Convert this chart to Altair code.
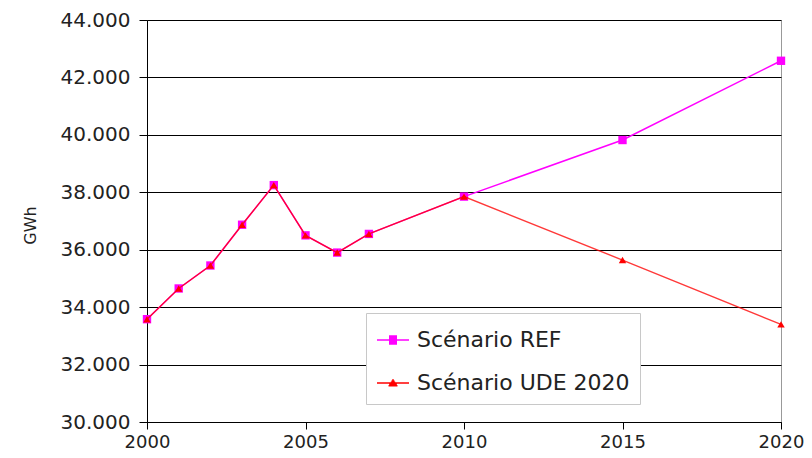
import altair as alt
import pandas as pd

YEARS = [2000, 2001, 2002, 2003, 2004, 2005, 2006, 2007, 2010, 2015, 2020]
REF = [33580, 34650, 35450, 36870, 38250, 36500, 35900, 36550, 37850, 39820, 42580]
UDE = [33580, 34650, 35450, 36870, 38250, 36500, 35900, 36550, 37850, 35640, 33400]
SERIES = ["Scénario REF", "Scénario UDE 2020"]
COLORS = ["#ff00ff", "#ff0000"]
Y_TICKS = [30000, 32000, 34000, 36000, 38000, 40000, 42000, 44000]
X_TICKS = [2000, 2005, 2010, 2015, 2020]

rows = []
for s, vals in zip(SERIES, [REF, UDE]):
    for yr, v in zip(YEARS, vals):
        rows.append({"year": yr, "value": v, "series": s})
df = pd.DataFrame(rows)

FONT = "DejaVu Sans"


def hlines(half_widths, y0, step):
    parts = []
    for i, w in enumerate(half_widths):
        yy = y0 + i * step
        parts.append(f"M{-w:.3f},{yy:.3f}H{w:.3f}")
    return "".join(parts)


# legend symbols: a short line with a solid marker in its middle (drawn with strokes)
sym_ref = "M-1,0H1" + hlines([0.25] * 7, -0.24, 0.08)
sym_ude = "M-1,0H1" + hlines([0.04, 0.09, 0.14, 0.19, 0.24, 0.28], -0.2, 0.075)

legend = alt.Legend(
    title=None,
    orient="none",
    legendX=219,
    legendY=293,
    direction="vertical",
    fillColor="white",
    strokeColor="#c8c8c8",
    padding=10,
    labelFont=FONT,
    labelFontSize=22,
    labelColor="#222222",
    labelLimit=500,
    symbolSize=1024,
    symbolStrokeWidth=1.6,
    symbolOpacity=1,
    labelOffset=7,
    rowPadding=15,
)

x = alt.X(
    "year:Q",
    scale=alt.Scale(domain=[2000, 2020], nice=False, zero=False),
    axis=alt.Axis(
        values=X_TICKS, format="d", title=None, grid=False,
        domainColor="black", tickColor="black", tickSize=7,
        labelFont=FONT, labelFontSize=18, labelColor="#222222", labelPadding=4,
        labelFlush=False,
    ),
)
y = alt.Y(
    "value:Q",
    scale=alt.Scale(domain=[30000, 44000], nice=False, zero=False),
    axis=alt.Axis(
        values=Y_TICKS, title="GWh", grid=True, gridColor="black", gridWidth=1,
        labelExpr="replace(format(datum.value, ',.0f'), ',', '.')",
        domainColor="black", tickColor="black", tickSize=8,
        labelFont=FONT, labelFontSize=20, labelColor="#222222", labelPadding=9,
        titleFont=FONT, titleFontSize=16, titleFontWeight="normal", titleColor="#222222",
        titleX=-117, titleY=205, titleBaseline="middle",
    ),
)

base = alt.Chart(df)
ref = base.transform_filter(alt.datum.series == SERIES[0])
ude = base.transform_filter(alt.datum.series == SERIES[1])

ref_line = ref.mark_line(strokeWidth=1.5, color=COLORS[0]).encode(x=x, y=y)
ref_pts = ref.mark_point(shape="square", filled=True, size=70, opacity=1, color=COLORS[0]).encode(x=x, y=y)
ude_line = ude.mark_line(strokeWidth=1.4, opacity=0.78, color=COLORS[1]).encode(x=x, y=y)
ude_pts = ude.mark_point(shape="triangle-up", filled=True, size=55, opacity=1, color=COLORS[1]).encode(x=x, y=y)

# invisible layer that only supplies the legend
legend_layer = base.transform_filter(alt.datum.year == 2000).mark_point(
    filled=False, opacity=0, size=1024, strokeWidth=1.6
).encode(
    x=x, y=y,
    color=alt.Color("series:N", scale=alt.Scale(domain=SERIES, range=COLORS), legend=legend),
    shape=alt.Shape("series:N", scale=alt.Scale(domain=SERIES, range=[sym_ref, sym_ude]), legend=legend),
)

chart = alt.layer(ref_line, ref_pts, ude_line, ude_pts, legend_layer).properties(
    width=634,
    height=402,
    autosize=alt.AutoSizeParams(type="none"),
    padding={"left": 139, "top": 12, "right": 23, "bottom": 28},
    background="white",
).configure_view(stroke="#999999", strokeWidth=1)

chart.save("out.html", embed_options={"renderer": "svg", "actions": False})
